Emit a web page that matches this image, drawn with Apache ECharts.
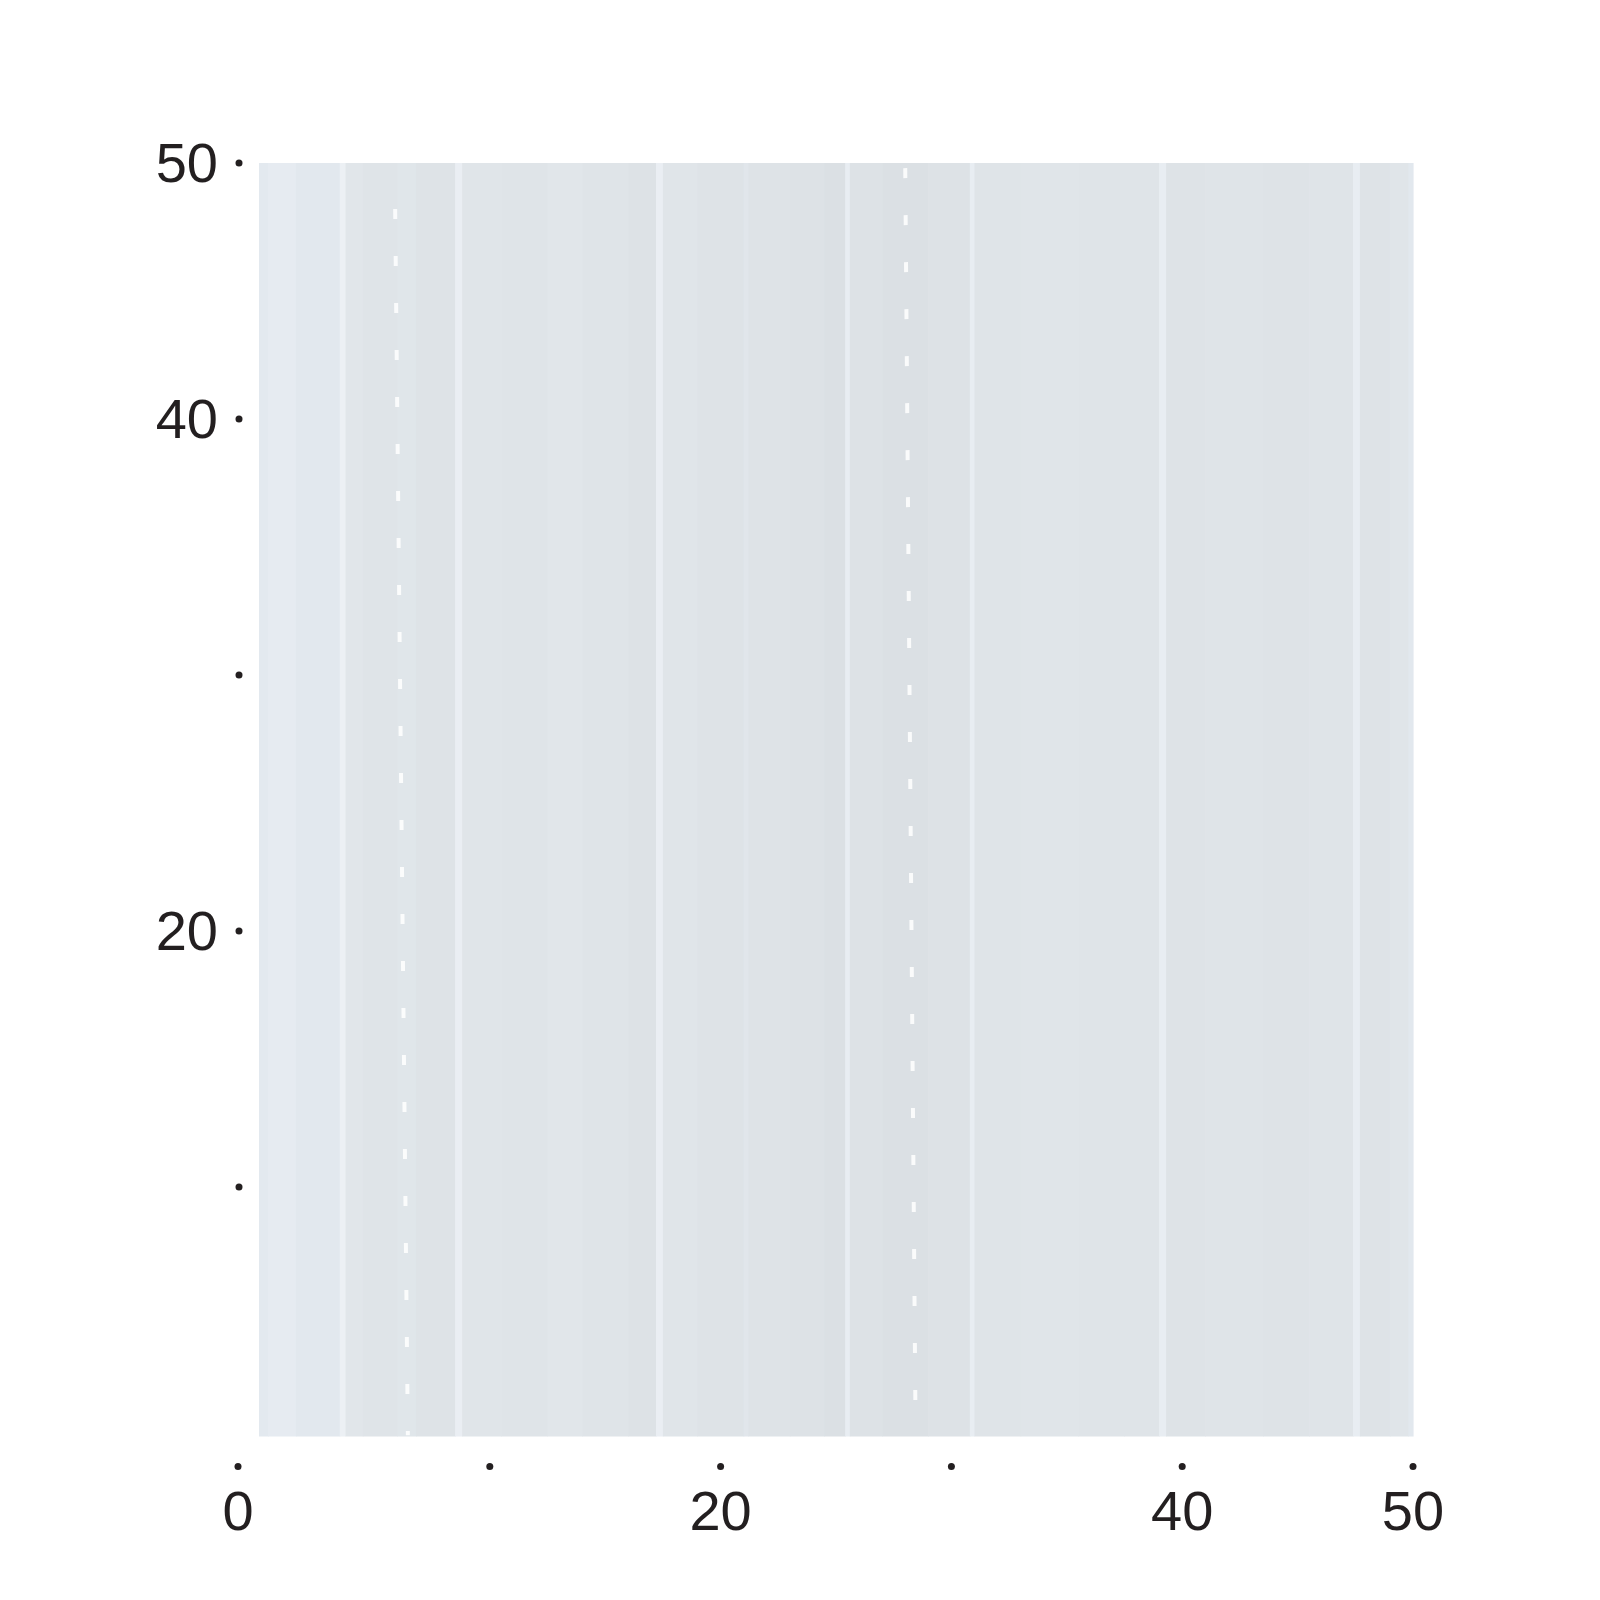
<!DOCTYPE html>
<html>
<head>
<meta charset="utf-8">
<script src="https://cdn.jsdelivr.net/npm/echarts@6/dist/echarts.min.js"></script>
<style>
html,body{margin:0;padding:0;background:#fff;}
#chart{width:1600px;height:1600px;}
</style>
</head>
<body>
<div id="chart"></div>
<script>
// ---- data ----
const stripeEdges = [0, 0.4, 1.6, 3.5, 3.75, 4.5, 6.0, 6.8, 8.5, 8.8, 10.5, 12.5, 14.0, 16.0, 17.2, 17.5, 19.0, 21.0, 21.2, 23.0, 24.5, 25.4, 25.6, 27.0, 29.0, 30.8, 31.0, 33.0, 35.5, 37.5, 39.0, 39.3, 41.0, 43.5, 45.5, 47.4, 47.7, 49.0, 49.8, 50];
const stripeShades = [0.65, 0.75, 0.6, 0.95, 0.4, 0.25, 0.38, 0.17, 0.87, 0.33, 0.25, 0.4, 0.25, 0.12, 0.87, 0.33, 0.17, 0.45, 0.17, 0.1, 0.0, 0.82, 0.1, 0.0, 0.1, 0.82, 0.25, 0.3, 0.25, 0.28, 0.82, 0.2, 0.28, 0.2, 0.28, 0.82, 0.2, 0.35, 0.6];
const dashLineA = [[5.9, 48.2], [6.45, 0.3]];
const dashLineB = [[28.0, 49.8], [28.45, 0.3]];
const xTickValues = [0, 10, 20, 30, 40, 50];
const xLabelValues = [0, 20, 40, 50];
const yTickValues = [10, 20, 30, 40, 50];
const yLabelValues = [20, 40, 50];

// ---- build ----
const stripeData = [];
for (let i = 0; i < stripeShades.length; i++) {
  stripeData.push([stripeEdges[i], stripeEdges[i + 1], 0.25, 50, stripeShades[i]]);
}
const TXT = '#231f20';
const FONT = '"Liberation Sans", Arial, Helvetica, sans-serif';
const DOT = {width: 7, height: 7, borderRadius: 3.5, backgroundColor: TXT};

const chart = echarts.init(document.getElementById('chart'), null, {renderer: 'canvas'});
chart.setOption({
  animation: false,
  backgroundColor: '#ffffff',
  grid: {left: 259, right: 187, top: 163, bottom: 157, containLabel: false},
  visualMap: {
    show: false, type: 'continuous', min: 0, max: 1, dimension: 4, seriesIndex: 0,
    inRange: {color: ['#dbe0e4', '#e0e5e9', '#e3e9ef', '#eef1f5']}
  },
  xAxis: {
    type: 'value', min: 0, max: 50, offset: 20,
    axisLine: {show: false}, axisTick: {show: false}, splitLine: {show: false},
    axisLabel: {
      customValues: xTickValues,
      margin: 0,
      formatter: function (v) {
        const lab = xLabelValues.indexOf(v) >= 0;
        const sp = v === 0 ? '{s|}' : '';
        return '{d|}' + sp + (lab ? '\n{t|' + v + '}' + sp : '');
      },
      rich: {
        d: DOT,
        s: {width: 42, height: 7},
        t: {fontSize: 56, lineHeight: 56, color: TXT, fontFamily: FONT, padding: [33, 0, 0, 0]}
      }
    }
  },
  yAxis: {
    type: 'value', min: 0, max: 50, offset: 20,
    axisLine: {show: false}, splitLine: {show: false}, axisTick: {show: false},
    axisLabel: {
      customValues: yTickValues, margin: -3.5,
      formatter: function (v) {
        return yLabelValues.indexOf(v) >= 0 ? '{t|' + v + '}{g|}{d|}' : '{d|}';
      },
      rich: {
        d: DOT,
        g: {width: 17.5, height: 7},
        t: {fontSize: 56, lineHeight: 56, color: TXT, fontFamily: FONT, padding: [8, 0, 0, 0]}
      }
    }
  },
  series: [
    {
      type: 'custom',
      silent: true,
      encode: {x: [0, 1], y: [2, 3]},
      data: stripeData,
      renderItem: function (params, api) {
        const p0 = api.coord([api.value(0), api.value(3)]);
        const p1 = api.coord([api.value(1), api.value(2)]);
        return {
          type: 'rect',
          shape: {x: p0[0], y: p0[1], width: p1[0] - p0[0] + 0.6, height: p1[1] - p0[1]},
          style: {fill: api.visual('color')}
        };
      }
    },
    {
      type: 'line', data: dashLineA, showSymbol: false, silent: true, z: 5,
      lineStyle: {color: '#ffffff', width: 4, type: [10, 37], opacity: 0.85}
    },
    {
      type: 'line', data: dashLineB, showSymbol: false, silent: true, z: 5,
      lineStyle: {color: '#ffffff', width: 4, type: [10, 37], opacity: 0.85}
    }
  ]
});
</script>
</body>
</html>
